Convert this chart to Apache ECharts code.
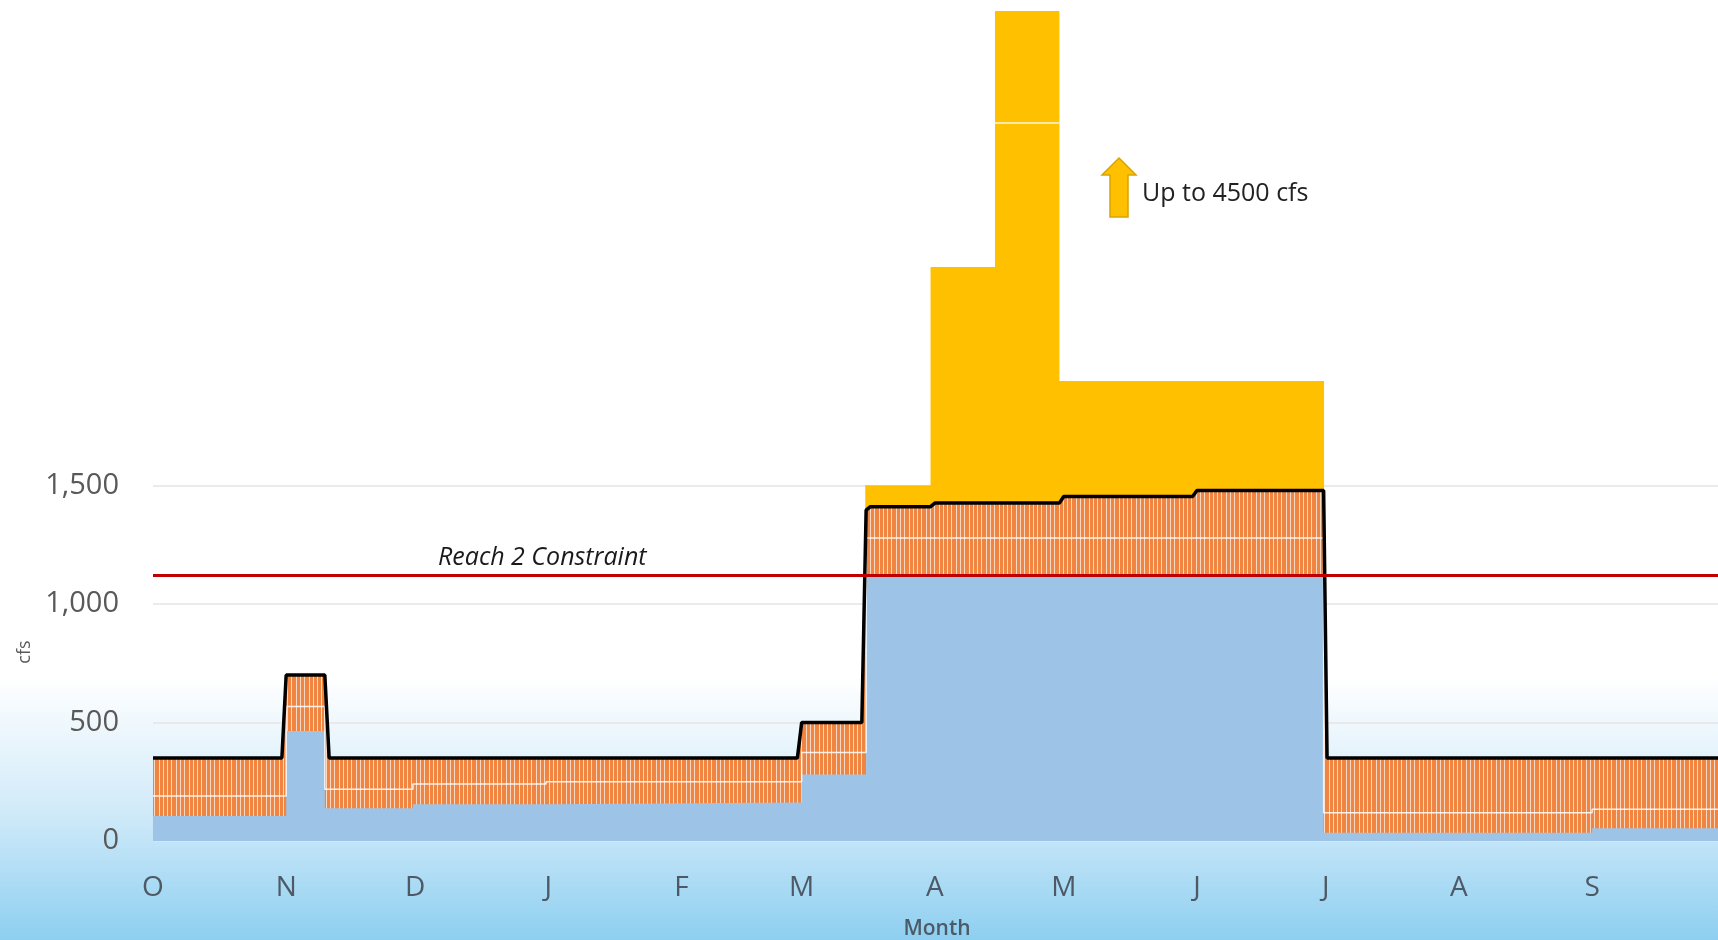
<!DOCTYPE html>
<html>
<head>
<meta charset="utf-8">
<title>Reach 2 flows</title>
<script src="https://cdn.jsdelivr.net/npm/echarts@6/dist/echarts.min.js"></script>
<style>
  html, body { margin: 0; padding: 0; }
  #chart { width: 1718px; height: 940px; }
</style>
</head>
<body>
<div id="chart"></div>
<script>
// x = days since Oct 1, y = cfs
const monthLabels = ["O", "N", "D", "J", "F", "M", "A", "M", "J", "J", "A", "S"];
const monthStartDays = [0, 31, 61, 92, 123, 151, 182, 212, 243, 273, 304, 335];
const yTickValues = [0, 500, 1000, 1500];

const reach2Constraint = 1120;

// top of the blue band
const blueFlow = [
  [0, 105], [31, 105], [31, 464], [40, 464], [40, 138], [60.5, 138], [60.5, 155],
  [91.5, 155], [91.5, 162], [151, 162], [151, 280], [166, 280], [166, 1120],
  [272.5, 1120], [272.5, 35], [335, 35], [335, 54], [365, 54]
];

// white divider inside the orange band
const midFlow = [
  [0, 190], [31, 190], [31, 567], [40, 567], [40, 218], [60.5, 218], [60.5, 240],
  [91.5, 240], [91.5, 250], [151, 250], [151, 373], [166, 373], [166, 1278],
  [272.5, 1278], [272.5, 119], [335, 119], [335, 134], [365, 134]
];

// black line, top of the orange band
const totalFlow = [
  [0, 350], [30, 350], [31, 700], [40, 700], [41, 350], [150, 350], [151, 500],
  [165, 500], [166, 1395], [167, 1410], [181, 1410], [182, 1425], [211, 1425],
  [212, 1453], [242, 1453], [243, 1478], [272.5, 1478], [273.3, 350], [365, 350]
];

// yellow pulse flows
const pulseFlow = [
  [165.8, 1500], [181, 1500], [181, 2420], [196, 2420], [196, 4500],
  [211, 4500], [211, 1940], [272.6, 1940]
];
const pulseBreak = 3030;

function hatchPattern(){
  const c = document.createElement("canvas");
  c.width = 30;
  c.height = 8;
  const ctx = c.getContext("2d");
  ctx.fillStyle = "#ef8540";
  ctx.fillRect(0, 0, 30, 8);
  ctx.fillStyle = "rgba(255,255,255,0.68)";
  [0, 4, 9, 13, 17, 21, 26].forEach(x => ctx.fillRect(x, 0, 1, 8));
  return c;
}

const chart = echarts.init(document.getElementById("chart"), null, { renderer: "canvas" });
const font = '"Open Sans", "DejaVu Sans", sans-serif';
const orangeFill = { image: hatchPattern(), repeat: "repeat" };

chart.setOption({
  animation: false,
  backgroundColor: {
    type: "linear", x: 0, y: 0, x2: 0, y2: 1,
    colorStops: [
      { offset: 0, color: "#ffffff" },
      { offset: 0.72, color: "#ffffff" },
      { offset: 0.86, color: "#d2ebf9" },
      { offset: 0.9, color: "#bfe3f7" },
      { offset: 1, color: "#8dcff0" }
    ]
  },
  textStyle: { fontFamily: font },
  grid: { left: 153, right: -3, top: 11, bottom: 99, containLabel: false, outerBoundsMode: "none" },
  xAxis: {
    type: "value",
    min: 0,
    max: 365,
    name: "Month",
    nameLocation: "middle",
    nameGap: 78,
    nameTextStyle: { fontSize: 21, fontWeight: 600, color: "#4d5a68", fontFamily: font },
    axisLine: { show: false },
    axisTick: { show: false, customValues: monthStartDays },
    splitLine: { show: false },
    axisLabel: {
      customValues: monthStartDays,
      margin: 33,
      fontSize: 28,
      color: "#4f5966",
      fontFamily: font,
      formatter: (v) => monthLabels[monthStartDays.indexOf(v)] || ""
    }
  },
  yAxis: {
    type: "value",
    min: 0,
    max: 3500,
    axisLine: { show: false },
    axisTick: { show: false, customValues: yTickValues },
    splitLine: { show: true, lineStyle: { color: "#e4e4e4", width: 1.5 } },
    axisLabel: {
      customValues: yTickValues,
      margin: 34,
      fontSize: 29,
      color: "#595959",
      fontFamily: font,
      formatter: (v) => v.toLocaleString("en-US")
    }
  },
  graphic: [
    {
      type: "text",
      x: 438,
      y: 558,
      style: {
        text: "Reach 2 Constraint",
        font: 'italic 25px "Open Sans", sans-serif',
        fill: "#1a1a1a",
        verticalAlign: "middle",
        textVerticalAlign: "middle"
      }
    },
    {
      type: "polygon",
      shape: {
        points: [[1119, 158], [1136, 175], [1128, 175], [1128, 217], [1110, 217], [1110, 175], [1102, 175]]
      },
      style: { fill: "#ffc000", stroke: "#d9a400", lineWidth: 1.5 }
    },
    {
      type: "text",
      x: 1142,
      y: 194,
      style: {
        text: "Up to 4500 cfs",
        font: '25px "Open Sans", sans-serif',
        fill: "#222",
        verticalAlign: "middle",
        textVerticalAlign: "middle"
      }
    },
    {
      type: "text",
      x: 25,
      y: 652,
      rotation: Math.PI / 2,
      style: {
        text: "cfs",
        font: '18px "Open Sans", sans-serif',
        fill: "#595959",
        align: "center",
        textAlign: "center",
        verticalAlign: "middle",
        textVerticalAlign: "middle"
      }
    }
  ],
  series: [
    {
      name: "Pulse flow",
      type: "line",
      symbol: "none",
      lineStyle: { width: 0 },
      areaStyle: { color: "#ffc000", opacity: 1 },
      data: pulseFlow,
      markLine: {
        silent: true,
        symbol: "none",
        label: { show: false },
        lineStyle: { color: "#fff8e0", width: 1.5, type: "solid" },
        data: [[{ coord: [196, pulseBreak] }, { coord: [211, pulseBreak] }]]
      }
    },
    {
      name: "Total",
      type: "line",
      symbol: "none",
      lineStyle: { width: 0 },
      areaStyle: { color: orangeFill, opacity: 1 },
      data: totalFlow
    },
    {
      name: "Divider",
      type: "line",
      symbol: "none",
      lineStyle: { color: "rgba(255,255,255,0.85)", width: 1.5 },
      data: midFlow
    },
    {
      name: "Base",
      type: "line",
      symbol: "none",
      lineStyle: { width: 0 },
      areaStyle: { color: "#9dc3e6", opacity: 1 },
      data: blueFlow
    },
    {
      name: "Total line",
      type: "line",
      symbol: "none",
      lineStyle: { color: "#000", width: 3.5 },
      data: totalFlow,
      markLine: {
        silent: true,
        symbol: "none",
        label: { show: false },
        lineStyle: { color: "#c00000", width: 3, type: "solid" },
        data: [{ yAxis: reach2Constraint }]
      }
    }
  ]
});

window.addEventListener("resize", () => chart.resize());
</script>
</body>
</html>
